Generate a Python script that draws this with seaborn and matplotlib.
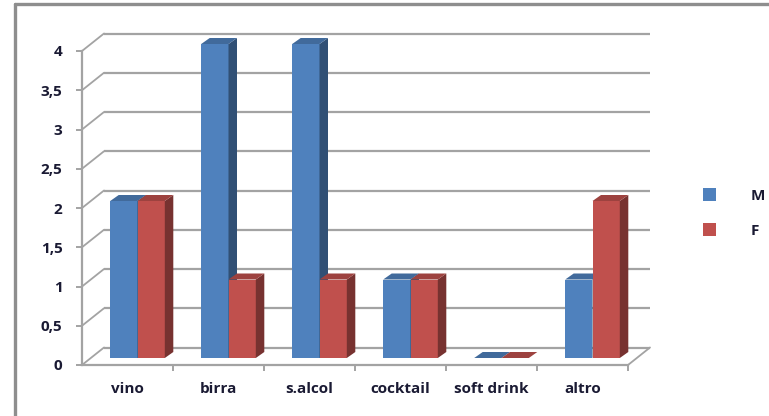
import numpy as np
import pandas as pd
import matplotlib
matplotlib.use("Agg")
import matplotlib.pyplot as plt
import matplotlib.colors as mcolors
from matplotlib.patches import Polygon, Patch
from matplotlib.lines import Line2D
import seaborn as sns

# ---- data -------------------------------------------------------------
categories = ["vino", "birra", "s.alcol", "cocktail", "soft drink", "altro"]
series_names = ["M", "F"]
values_m = [2, 4, 4, 1, 0, 1]
values_f = [2, 1, 1, 1, 0, 2]
y_ticks = [0, 0.5, 1, 1.5, 2, 2.5, 3, 3.5, 4]
y_tick_labels = ["0", "0,5", "1", "1,5", "2", "2,5", "3", "3,5", "4"]

series_colors = {"M": "#4F81BD", "F": "#C0504D"}

df = pd.DataFrame({
    "categoria": categories * 2,
    "sesso": ["M"] * len(categories) + ["F"] * len(categories),
    "valore": values_m + values_f,
})

# ---- style ------------------------------------------------------------
sns.set_theme(style="white")
plt.rcParams["font.family"] = ["Open Sans", "DejaVu Sans"]
TEXT = "#1a1a33"
GRID = "#a3a3a3"
FS = 11

W, H, DPI = 769, 416, 100
fig = plt.figure(figsize=(W / DPI, H / DPI), dpi=DPI)
fig.patch.set_facecolor("white")

# front plane of the plot, in pixels
AX_L, AX_B, AX_W, AX_H = 82, 51, 546, 314
ax = fig.add_axes([AX_L / W, AX_B / H, AX_W / W, AX_H / H])

sns.barplot(data=df, x="categoria", y="valore", hue="sesso",
            order=categories, hue_order=series_names,
            palette=series_colors, width=0.6, saturation=1,
            errorbar=None, legend=False, ax=ax)

ax.set_xlim(-0.5, len(categories) - 0.5)
ax.set_ylim(0, 4)
ax.set_xlabel("")
ax.set_ylabel("")

# data units per pixel
ux = (len(categories)) / AX_W
uy = 4 / AX_H

# depth of the back wall, position of the bars and their own depth (pixels)
wall_dx, wall_dy = 22 * ux, 17.5 * uy
bar_ox, bar_oy = 10 * ux, 7 * uy
bar_dx, bar_dy = 8.5 * ux, 6 * uy


def shade(color, f):
    r, g, b = mcolors.to_rgb(color)
    return (r * f, g * f, b * f)


# ---- back wall grid, side wall and floor ----------------------------------
x_lo, x_hi = -0.5, len(categories) - 0.5
for v in y_ticks:
    ax.plot([x_lo + wall_dx, x_hi + wall_dx], [v + wall_dy, v + wall_dy],
            color=GRID, lw=1.6, clip_on=False, zorder=1, solid_capstyle="butt")
    ax.plot([x_lo, x_lo + wall_dx], [v, v + wall_dy],
            color=GRID, lw=1.3, clip_on=False, zorder=1)
ax.plot([x_hi, x_hi + wall_dx], [0, wall_dy], color=GRID, lw=1.3,
        clip_on=False, zorder=1)

# ---- extruded bars ---------------------------------------------------------
m_rgb = mcolors.to_rgb(series_colors["M"])
for p in list(ax.patches):
    x0 = p.get_x() + bar_ox
    w = p.get_width()
    h = p.get_height()
    face = p.get_facecolor()[:3]
    z = 3 if np.allclose(face, m_rgb, atol=0.01) else 4
    p.set_x(x0)
    p.set_y(bar_oy)
    p.set_linewidth(0)
    p.set_clip_on(False)
    p.set_zorder(z)
    x1 = x0 + w
    y0 = bar_oy
    y1 = bar_oy + h
    side = Polygon([(x1, y0), (x1 + bar_dx, y0 + bar_dy),
                    (x1 + bar_dx, y1 + bar_dy), (x1, y1)],
                   closed=True, facecolor=shade(face, 0.62), lw=0,
                   clip_on=False, zorder=z)
    top = Polygon([(x0, y1), (x1, y1), (x1 + bar_dx, y1 + bar_dy),
                   (x0 + bar_dx, y1 + bar_dy)],
                  closed=True, facecolor=shade(face, 0.82), lw=0,
                  clip_on=False, zorder=z)
    ax.add_patch(side)
    ax.add_patch(top)

# ---- axes -------------------------------------------------------------------
for s in ("top", "right"):
    ax.spines[s].set_visible(False)
for s in ("left", "bottom"):
    ax.spines[s].set_color(GRID)
    ax.spines[s].set_linewidth(1.6)
    ax.spines[s].set_zorder(2)

ax.set_yticks(y_ticks, y_tick_labels)
ax.tick_params(axis="y", which="major", direction="out", length=4, width=1.4,
               color=GRID, pad=10, labelsize=FS, labelcolor=TEXT, left=True)

ax.set_xticks(range(len(categories)), categories)
ax.set_xticks(np.arange(0.5, len(categories), 1), minor=True)
ax.tick_params(axis="x", which="major", length=0, pad=12, labelsize=FS,
               labelcolor=TEXT)
ax.tick_params(axis="x", which="minor", direction="out", length=4, width=1.4,
               color=GRID, bottom=True)
for lab in ax.get_xticklabels() + ax.get_yticklabels():
    lab.set_fontweight("bold")

# ---- legend -----------------------------------------------------------------
handles = [Patch(facecolor=series_colors[s], edgecolor="none", label=s)
           for s in series_names]
leg = ax.legend(handles=handles, loc="center left",
                bbox_to_anchor=(695 / W, (H - 213) / H),
                bbox_transform=fig.transFigure, frameon=False,
                handlelength=0.85, handleheight=0.95, handletextpad=2.3,
                labelspacing=1.35, borderpad=0,
                prop={"weight": "bold", "size": FS})
for t in leg.get_texts():
    t.set_color(TEXT)

# ---- outer frame ------------------------------------------------------------
fig.add_artist(Line2D([15 / W, 15 / W], [0, (H - 4) / H],
                      transform=fig.transFigure, color="#8e8e8e", lw=2.4))
fig.add_artist(Line2D([15 / W, 1], [(H - 4) / H, (H - 4) / H],
                      transform=fig.transFigure, color="#8e8e8e", lw=2.4))

fig.savefig("out.png", dpi=DPI)
